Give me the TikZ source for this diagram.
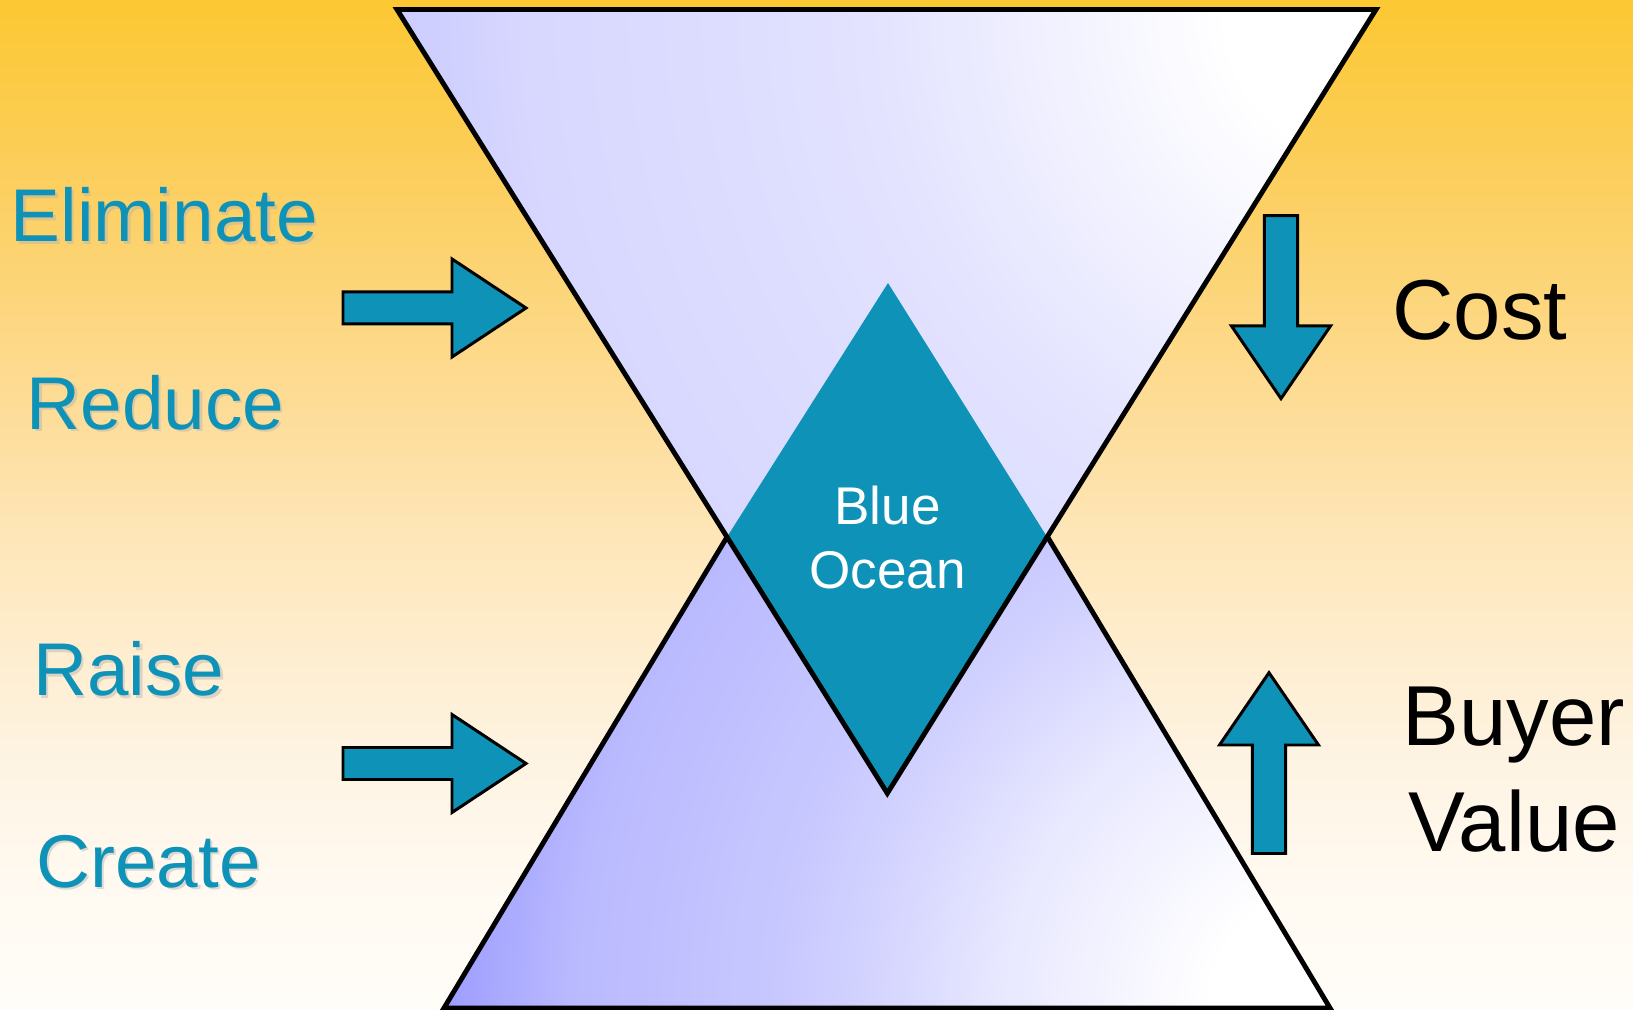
\documentclass[tikz,border=0pt]{standalone}
\usepackage{fontspec}
\setmainfont{Liberation Sans}
\usetikzlibrary{calc}

\definecolor{oceanteal}{RGB}{14,146,183}
% background, bottom to top
\definecolor{bg0}{RGB}{255,253,248}
\definecolor{bg1}{RGB}{255,250,242}
\definecolor{bg2}{RGB}{254,243,225}
\definecolor{bg3}{RGB}{254,230,184}
\definecolor{bg4}{RGB}{253,222,158}
\definecolor{bg5}{RGB}{252,206,92}
\definecolor{bg6}{RGB}{252,200,50}
% upper funnel
\definecolor{topA}{RGB}{228,228,255}
\definecolor{topB}{RGB}{222,222,255}
\definecolor{topC}{RGB}{216,216,255}
\definecolor{topD}{RGB}{202,202,255}
% lower funnel
\definecolor{botA}{RGB}{232,232,255}
\definecolor{botB}{RGB}{213,213,255}
\definecolor{botC}{RGB}{200,200,255}
\definecolor{botD}{RGB}{185,185,255}
\definecolor{botE}{RGB}{156,156,255}

% the path's box is the middle 25bp--75bp of a shading
\pgfdeclareverticalshading{sunsky}{100bp}{color(0bp)=(bg0); color(25bp)=(bg0); color(30.5bp)=(bg1); color(38bp)=(bg2); color(48.5bp)=(bg3); color(53.5bp)=(bg4); color(66.5bp)=(bg5); color(75bp)=(bg6); color(100bp)=(bg6)}
\pgfdeclareradialshading{topglow}{\pgfpointorigin}{color(0bp)=(white); color(3.75bp)=(white); color(12.25bp)=(topA); color(15.5bp)=(topB); color(21bp)=(topC); color(25bp)=(topD); color(50bp)=(topD)}
\pgfdeclareradialshading{botglow}{\pgfpointorigin}{color(0bp)=(white); color(3bp)=(white); color(8.25bp)=(botA); color(11.25bp)=(botB); color(13.75bp)=(botC); color(19bp)=(botD); color(22.25bp)=(botE); color(50bp)=(botE)}

\tikzset{
  edge/.style={draw=black, line width=1.4pt},
  fatarrow/.style={fill=oceanteal, draw=black, line width=0.85pt},
  lbl/.style={font=\fontsize{21.25pt}{25pt}\selectfont, text=oceanteal, anchor=base west, inner sep=0pt},
  lblshadow/.style={lbl, text=black!30, opacity=0.45},
  rlbl/.style={font=\fontsize{24.2pt}{30.16pt}\selectfont, text=black, inner sep=0pt}
}

\begin{document}
\begin{tikzpicture}[x=0.01cm,y=-0.01cm]
\useasboundingbox (0,0) rectangle (1633,1010);
\shade[shading=sunsky] (0,0) rectangle (1633,1010);

\coordinate (topL) at (397,9.5);
\coordinate (topR) at (1376,9.5);
\coordinate (topTip) at (887.3,793.3);
\coordinate (botL) at (444,1008);
\coordinate (botR) at (1330,1008);
\coordinate (botTip) at (887.5,270);
\coordinate (diaN) at (888,283);
\coordinate (diaW) at ($(topL)!0.673!(topTip)$);
\coordinate (diaE) at ($(topR)!0.673!(topTip)$);

% lower funnel
\begin{scope}
  \clip (botL) -- (botR) -- (botTip) -- cycle;
  \shade[shading=botglow] ($(botR)+(-1000,-1000)$) rectangle ($(botR)+(1000,1000)$);
\end{scope}
\draw[edge] (botL) -- (botR) -- (botTip) -- cycle;

% upper funnel
\begin{scope}
  \clip (topL) -- (topR) -- (topTip) -- cycle;
  \shade[shading=topglow] ($(topR)+(-1000,-1000)$) rectangle ($(topR)+(1000,1000)$);
\end{scope}

% blue ocean
\fill[oceanteal] (diaN) -- (diaE) -- (topTip) -- (diaW) -- cycle;
\draw[edge] (topL) -- (topR) -- (topTip) -- cycle;
\node[font=\fontsize{15.1pt}{18.1pt}\selectfont, text=white, align=center, inner sep=0pt] (ocean) at (887.5,537.5) {Blue\\Ocean};

% arrows
\draw[fatarrow] (343,292) -- (452,292) -- (452,259) -- (526,308) -- (452,357) -- (452,324) -- (343,324) -- cycle;
\draw[fatarrow] (343,747.5) -- (452,747.5) -- (452,714.5) -- (526,763.5) -- (452,812.5) -- (452,779.5) -- (343,779.5) -- cycle;
\draw[fatarrow] (1264.3,215.7) -- (1297.7,215.7) -- (1297.7,326) -- (1330.5,326) -- (1281,398.6) -- (1231.5,326) -- (1264.3,326) -- cycle;
\draw[fatarrow] (1252.3,853.5) -- (1285.7,853.5) -- (1285.7,745) -- (1318.5,745) -- (1269,672.7) -- (1219.5,745) -- (1252.3,745) -- cycle;

% four actions
\node[lblshadow] (elimS) at (12.4,244.2) {Eliminate};
\node[lbl] (elim) at (9.9,241.7) {Eliminate};
\node[lblshadow] (reduS) at (28.3,431.8) {Reduce};
\node[lbl] (redu) at (25.8,429.3) {Reduce};
\node[lblshadow] (raisS) at (34.9,698.5) {Raise};
\node[lbl] (rais) at (32.4,696) {Raise};
\node[lblshadow] (creaS) at (38.1,889.8) {Create};
\node[lbl] (crea) at (35.6,887.3) {Create};

\node[rlbl, anchor=base west] (cost) at (1391.8,340) {Cost};
\node[rlbl, align=center] (value) at (1514,769.5) {Buyer\\Value};
\end{tikzpicture}
\end{document}
